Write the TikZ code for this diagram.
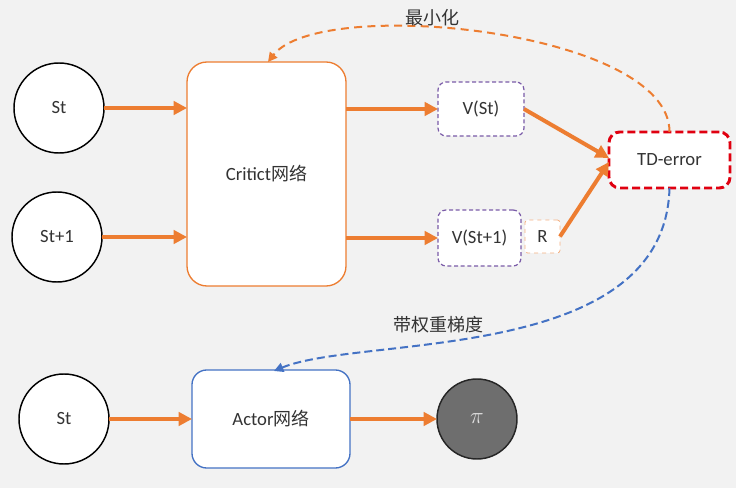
\documentclass[tikz,border=0pt]{standalone}
\usepackage{fontspec}
\setmainfont{Carlito}
\newfontfamily\cjk{Noto Sans CJK SC}
\usetikzlibrary{arrows.meta}
\definecolor{bg}{HTML}{F2F2F2}
\definecolor{orng}{HTML}{ED7D31}
\definecolor{lorng}{HTML}{F4B183}
\definecolor{purp}{HTML}{7A5BA8}
\definecolor{redd}{HTML}{E00010}
\definecolor{blu}{HTML}{4472C4}
\definecolor{txt}{HTML}{333333}
\tikzset{
  every node/.style={font=\fontsize{14}{16}\selectfont, text=txt},
  statec/.style={circle, draw=black, line width=1.1pt, fill=white, minimum size=67.5pt, inner sep=0pt, outer sep=0pt},
  box/.style={draw, fill=white, inner sep=0pt, outer sep=0pt},
  flow/.style={draw=orng, line width=3pt, -{Triangle[length=10pt,width=10pt]}},
  lbl/.style={font=\cjk\fontsize{13.5}{16}\selectfont},
}
\begin{document}
\begin{tikzpicture}[x=0.75pt,y=-0.75pt]
\useasboundingbox[fill=bg] (0,0) rectangle (736,488);
% nodes
\node[statec] (s1) at (59,108) {St};
\node[statec] (s2) at (57,237) {St+1};
\node[statec] (s3) at (64,419) {St};
\node[box, draw=orng, line width=1pt, rounded corners=15pt, minimum width=119.25pt, minimum height=168pt] (critic) at (266.5,174) {Critict{\cjk\fontsize{13.5}{16}\selectfont 网络}};
\node[box, draw=purp, line width=0.9pt, dash pattern=on 3pt off 2pt, rounded corners=6pt, minimum width=64.5pt, minimum height=40.5pt] (vst) at (481,109) {V(St)};
\node[box, draw=purp, line width=0.9pt, dash pattern=on 3pt off 2pt, rounded corners=6pt, minimum width=62.25pt, minimum height=42pt] (vst1) at (479.5,238) {V(St+1)};
\node[box, draw=lorng, line width=0.6pt, dashed, rounded corners=2pt, minimum width=26.25pt, minimum height=24.75pt] (r) at (542.5,236.5) {R};
\node[box, draw=redd, line width=2.2pt, dash pattern=on 6pt off 3pt, rounded corners=8pt, minimum width=90.75pt, minimum height=42pt] (td) at (669.5,160) {TD-error};
\node[box, draw=blu, line width=1pt, rounded corners=11pt, minimum width=118.5pt, minimum height=73.5pt] (actor) at (271,419) {Actor{\cjk\fontsize{13.5}{16}\selectfont 网络}};
\node[circle, draw=black!85, line width=1.1pt, fill=black!57, minimum size=60pt, inner sep=0pt, outer sep=0pt, text=black!12, font=\fontsize{17}{18}\selectfont] (pi) at (477,419) {$\pi$};
% flows
\draw[flow] (s1.east) -- (s1.east -| critic.west);
\draw[flow] (s2.east) -- (s2.east -| critic.west);
\draw[flow] (s3.east) -- (s3.east -| actor.west);
\draw[flow] (critic.east |- vst.west) -- (vst.west);
\draw[flow] (critic.east |- vst1.west) -- (vst1.west);
\draw[flow] (vst.east) -- ([yshift=1.5pt]td.west);
\draw[flow] (r.east) -- ([yshift=-1.5pt]td.west);
\draw[flow] (actor.east) -- (pi.west);
% dashed feedback
\coordinate (ctop) at (268,62);
\coordinate (atop) at (274,371);
\draw[orng, line width=1.5pt, dash pattern=on 6pt off 4pt, -{Triangle[length=7pt,width=7pt]}] (td.north) .. controls (670,30) and (320,-5) .. (ctop);
\draw[blu, line width=1.5pt, dash pattern=on 6pt off 3pt, -{Triangle[length=7pt,width=7pt]}] (td.south) .. controls (665,365) and (360,335) .. (atop);
\node[lbl] (l1) at (432,18) {最小化};
\node[lbl] (l2) at (438,325) {带权重梯度};
\end{tikzpicture}
\end{document}
